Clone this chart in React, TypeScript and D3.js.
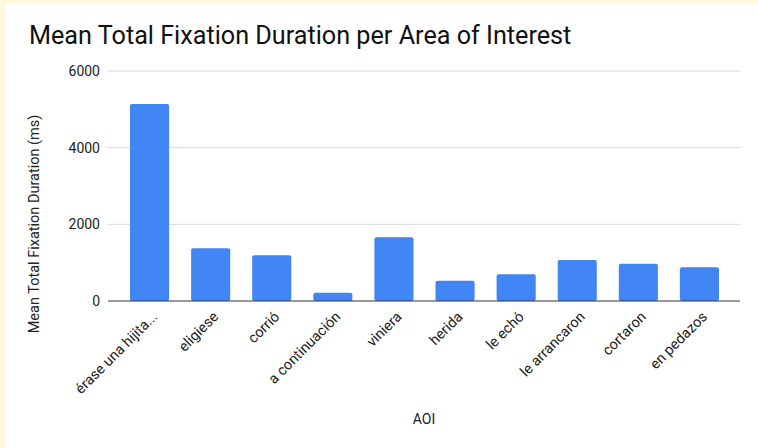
import * as d3 from "d3";
import { useRef, useEffect, ReactElement } from "react";

// chart data
const categories = [
    "érase una hijita...",
    "eligiese",
    "corrió",
    "a continuación",
    "viniera",
    "herida",
    "le echó",
    "le arrancaron",
    "cortaron",
    "en pedazos",
];
const meanDurations = [5140, 1375, 1192, 217, 1662, 530, 696, 1070, 973, 878];
const yTicks = [0, 2000, 4000, 6000];

const W = 758;
const H = 448;
const FONT = "Roboto, 'Noto Sans', sans-serif";

const App = (): ReactElement => {
    const svgRef = useRef<SVGSVGElement>(null);

    useEffect(() => {
        if (!svgRef.current) return;
        const svg = d3.select(svgRef.current);
        svg.selectAll("*").remove();

        const plotLeft = 108;
        const plotRight = 740;
        const plotTop = 71;
        const plotBottom = 301;

        // background: cream page with white panel
        svg.append("rect").attr("width", W).attr("height", H).attr("fill", "#fff8dc");
        svg.append("rect").attr("x", 5).attr("y", 3).attr("width", W - 5).attr("height", H - 3).attr("fill", "#ffffff");

        // scales
        const xScale = d3.scaleBand<string>()
            .domain(categories)
            .range([119, 730])
            .paddingInner(0.36)
            .paddingOuter(0.18);

        const yScale = d3.scaleLinear()
            .domain([0, 6000])
            .range([plotBottom, plotTop]);

        // gridlines
        svg.append("g")
            .selectAll("line")
            .data(yTicks.filter(t => t !== 0))
            .enter()
            .append("line")
                .attr("x1", plotLeft)
                .attr("x2", plotRight)
                .attr("y1", d => yScale(d))
                .attr("y2", d => yScale(d))
                .attr("stroke", "#d9d9d9")
                .attr("stroke-width", 1);

        // y tick labels
        svg.append("g")
            .selectAll("text")
            .data(yTicks)
            .enter()
            .append("text")
                .attr("x", 100)
                .attr("y", d => yScale(d))
                .attr("dy", "0.35em")
                .attr("text-anchor", "end")
                .attr("font-family", FONT)
                .attr("font-size", 14)
                .attr("fill", "#222")
                .text(d => String(d));

        // bars
        svg.append("g")
            .selectAll("rect")
            .data(categories)
            .enter()
            .append("rect")
                .attr("x", d => xScale(d)!)
                .attr("y", (d, i) => yScale(meanDurations[i]))
                .attr("width", xScale.bandwidth())
                .attr("height", (d, i) => plotBottom - yScale(meanDurations[i]))
                .attr("rx", 2)
                .attr("fill", "#4285f4");

        // baseline
        svg.append("line")
            .attr("x1", plotLeft)
            .attr("x2", plotRight)
            .attr("y1", plotBottom)
            .attr("y2", plotBottom)
            .attr("stroke", "#333")
            .attr("stroke-width", 1.2);

        // x labels, rotated -45
        svg.append("g")
            .selectAll("text")
            .data(categories)
            .enter()
            .append("text")
                .attr("transform", d => {
                    const cx = xScale(d)! + xScale.bandwidth() / 2 + 5;
                    return `translate(${cx},${plotBottom + 13}) rotate(-45)`;
                })
                .attr("text-anchor", "end")
                .attr("dy", "0.35em")
                .attr("font-family", FONT)
                .attr("font-size", 14.5)
                .attr("fill", "#222")
                .text(d => d);

        // title
        svg.append("text")
            .attr("x", 29)
            .attr("y", 44)
            .attr("font-family", FONT)
            .attr("font-size", 25.2)
            .attr("fill", "#111")
            .text("Mean Total Fixation Duration per Area of Interest");

        // y axis title
        svg.append("text")
            .attr("transform", `translate(34,224) rotate(-90)`)
            .attr("text-anchor", "middle")
            .attr("dy", "0.35em")
            .attr("font-family", FONT)
            .attr("font-size", 14.5)
            .attr("fill", "#222")
            .text("Mean Total Fixation Duration (ms)");

        // x axis title
        svg.append("text")
            .attr("x", (plotLeft + plotRight) / 2)
            .attr("y", 419)
            .attr("dy", "0.35em")
            .attr("text-anchor", "middle")
            .attr("font-family", FONT)
            .attr("font-size", 14)
            .attr("fill", "#222")
            .text("AOI");

        return () => {
            svg.selectAll("*").remove();
        };
    }, []);

    return (
        <>
            <style>{"body{margin:0}"}</style>
            <svg width={W} height={H} ref={svgRef} style={{ display: "block" }}></svg>
        </>
    );
};

export default App;
